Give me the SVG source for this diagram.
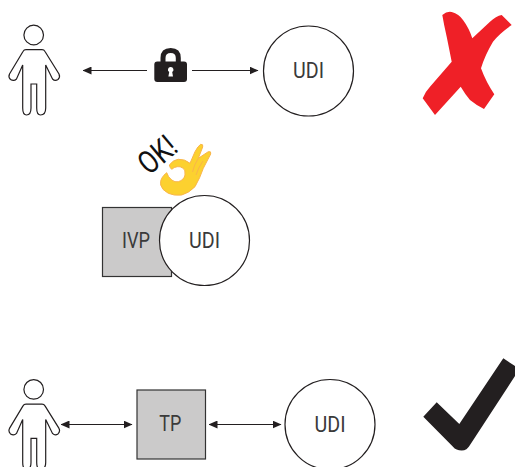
<svg xmlns="http://www.w3.org/2000/svg" width="515" height="467" viewBox="0 0 515 467">
<style>
.o{fill:#fff;stroke:#231f20;stroke-width:1.2}
.b{fill:#cbcaca;stroke:#333;stroke-width:1.2}
.l{fill:none;stroke:#231f20;stroke-width:1.2}
.t{font-family:Roboto,"Liberation Sans",sans-serif;font-weight:400;font-size:22px;fill:#3a3a3a;text-anchor:middle}
</style>
<defs>
<marker id="a" viewBox="0 0 9 8" markerWidth="9" markerHeight="8" refX="8.500" refY="4" orient="auto-start-reverse" markerUnits="userSpaceOnUse"><path d="M0 0L9 4L0 8z" fill="#231f20"/></marker>
<g id="person"><circle class="o" cx="33.700" cy="35" r="9.800"/><path class="o" d="M26 49.700H42Q44 49.700 45 51.500L59 74Q60.500 77 58 79.500Q55 81.500 52.500 79L45.700 65V108Q45.700 115 40.500 115Q36.700 115 36.700 108V84H31V108Q31 115 26.500 115Q22.700 115 22.700 108V65L16.500 79Q14 81.500 10.500 79.500Q8 77 9.500 74L23 51.500Q24 49.700 26 49.700Z"/></g>
</defs>
<g id="connectors">
<path class="l" d="M147 70.500H83" marker-end="url(#a)"/>
<path class="l" d="M192 70.500H258" marker-end="url(#a)"/>
<path class="l" d="M61 424.500H132" marker-start="url(#a)" marker-end="url(#a)"/>
<path class="l" d="M209 424.500H281" marker-start="url(#a)" marker-end="url(#a)"/>
</g>
<g id="person-top"><use href="#person"/></g>
<g id="lock"><path d="M163 62V58Q163 50.500 170.700 50.500Q178.300 50.500 178.300 58V62" fill="none" stroke="#231f20" stroke-width="5"/><rect x="154.300" y="61.500" width="32.700" height="20.500" rx="3" fill="#231f20"/><path d="M170.700 67a2.700 2.700 0 0 1 1.500 5l.8 4.500h-4.600l.8-4.500a2.700 2.700 0 0 1 1.500-5z" fill="#fff"/></g>
<g id="udi-top"><circle class="o" cx="308.500" cy="71" r="45"/><text class="t" x="308.500" y="78" textLength="31" lengthAdjust="spacingAndGlyphs">UDI</text></g>
<g id="cross"><path d="M442.300 15Q447 11 451.700 12Q459 14 463 20Q469 28 472.300 38.300L490 21.700Q496 16 501.700 15L511.700 25Q500 33 493 41.700Q485 55 481 68.300Q486 82 494.300 94.300L484 109Q476 105 470 100Q465 94 460.700 86.700L435 115L422.700 98.300Q425 92 430 86.700L451.700 61.700Q449 48 446.700 36.700Q444 25 442.300 15Z" fill="#ef2027"/></g>
<g id="ok"><text transform="translate(149 176) rotate(-40)" font-family="Roboto,'Liberation Sans',sans-serif" font-weight="400" font-size="32" fill="#111" textLength="40" lengthAdjust="spacingAndGlyphs">OK!</text>
<path d="M169.300 165Q173 160 178.300 159.300Q185 159 190 163.300L195 151.700Q198 146 200.700 144.300Q203.500 144 202.700 147L198.300 158.300L208.300 151.700Q211.500 151 210.700 154L203.300 168.300Q200 178 195 186.700Q189 193 181.700 195Q174 196 168.300 193.300Q162 190 160.700 185Q160 181 161.700 178.300Q163.500 175 166.700 172.700Q168 177 171.700 180Q175 182.500 178.300 181.700Q184 180 185 175Q185.500 170 183.300 168.300Q180 166 177.300 166.700Q174 167 171.700 169.300Q170 168 169.300 165Z" fill="#fcd12f" stroke="#f9b54a" stroke-width="1"/>
<path d="M198.300 158.300Q194 165 192.500 172M203 161Q198 168 196 175" fill="none" stroke="#f9b54a" stroke-width="1"/></g>
<g id="ivp"><rect class="b" x="102.500" y="207.500" width="69" height="69"/><text class="t" x="136" y="247.500" textLength="28" lengthAdjust="spacingAndGlyphs">IVP</text></g>
<g id="udi-mid"><circle class="o" cx="204.500" cy="240.500" r="45"/><text class="t" x="204.500" y="247.500" textLength="31" lengthAdjust="spacingAndGlyphs">UDI</text></g>
<g id="person-bottom"><use href="#person" y="354.400"/></g>
<g id="tp"><rect class="b" x="137" y="390" width="68.500" height="69"/><text class="t" x="170.300" y="431" textLength="22" lengthAdjust="spacingAndGlyphs">TP</text></g>
<g id="udi-bottom"><circle class="o" cx="330" cy="424.500" r="45"/><text class="t" x="330" y="431.500" textLength="31" lengthAdjust="spacingAndGlyphs">UDI</text></g>
<g id="check"><path d="M503.300 358.300L515 366V376L470 445Q467 450.500 461.700 450.500Q456 450.500 453 446.700L423.300 416.700L436.700 402.300L459.300 424Z" fill="#231f20"/></g>
</svg>
